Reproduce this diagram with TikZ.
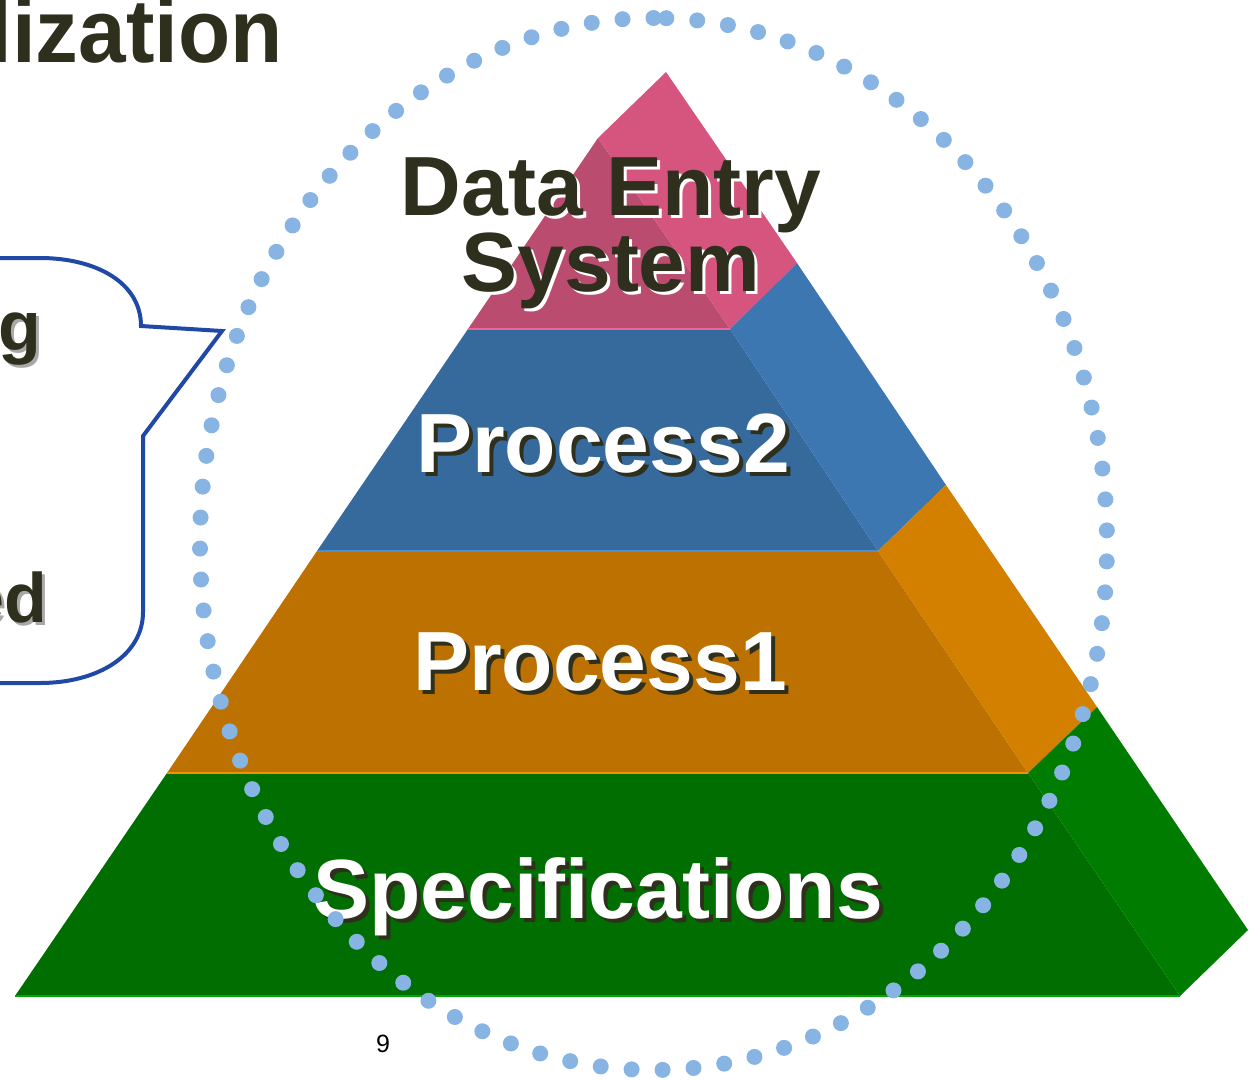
\documentclass[tikz,border=0pt]{standalone}
\usepackage{fontspec}
\setmainfont{Liberation Sans}
\definecolor{inkdark}{HTML}{2F2F1E}
\definecolor{pinkF}{HTML}{BA4C70}
\definecolor{pinkR}{HTML}{D5557F}
\definecolor{pinkL}{HTML}{E9679A}
\definecolor{blueF}{HTML}{366A9D}
\definecolor{blueR}{HTML}{3D77B1}
\definecolor{blueL}{HTML}{4B90D8}
\definecolor{oranF}{HTML}{BC7100}
\definecolor{oranR}{HTML}{D37F00}
\definecolor{oranL}{HTML}{F29200}
\definecolor{greenF}{HTML}{006E00}
\definecolor{greenR}{HTML}{007D00}
\definecolor{greenL}{HTML}{00A800}
\definecolor{dotblue}{HTML}{87B4E3}
\definecolor{callblue}{HTML}{1F49A5}
\definecolor{shadowgray}{HTML}{A8A8A8}
\begin{document}
\begin{tikzpicture}[x=1pt,y=-1pt,
  bigfont/.style={font=\fontsize{84}{84}\selectfont\bfseries},
  lbl/.style={bigfont,anchor=base,inner sep=0pt},
  whitelbl/.style={lbl,text=white},
  darkshadow/.style={lbl,text=inkdark},
  darklbl/.style={lbl,text=inkdark},
  whiteshadow/.style={lbl,text=white},
  calltext/.style={anchor=base east,inner sep=0pt,text=inkdark,font=\fontsize{70}{70}\selectfont\bfseries},
  callshadow/.style={calltext,text=shadowgray},
  edgeline/.style={line width=2.5pt},
  dotring/.style={dotblue,line width=16pt,line cap=round,dash pattern=on 0pt off 31pt},
  callout/.style={callblue,line width=4pt,line join=miter}]
\useasboundingbox (0,0) rectangle (1253,1079);
% pyramid corners
\coordinate (A) at (598,138);
\coordinate (B) at (666,72);
\coordinate (L1) at (468,329);
\coordinate (L2) at (317,551);
\coordinate (L3) at (167,773);
\coordinate (L4) at (15,996);
\coordinate (R1) at (730,329);
\coordinate (R2) at (878,551);
\coordinate (R3) at (1028,773);
\coordinate (R4) at (1180,996);
\coordinate (K1) at (797,263);
\coordinate (K2) at (946,485);
\coordinate (K3) at (1097,707);
\coordinate (K4) at (1248,930);
% layers
\fill[pinkF] (A) -- (R1) -- (L1) -- cycle;
\fill[pinkR] (A) -- (B) -- (K1) -- (R1) -- cycle;
\fill[blueF] (L1) -- (R1) -- (R2) -- (L2) -- cycle;
\fill[blueR] (R1) -- (K1) -- (K2) -- (R2) -- cycle;
\fill[oranF] (L2) -- (R2) -- (R3) -- (L3) -- cycle;
\fill[oranR] (R2) -- (K2) -- (K3) -- (R3) -- cycle;
\fill[greenF] (L3) -- (R3) -- (R4) -- (L4) -- cycle;
\fill[greenR] (R3) -- (K3) -- (K4) -- (R4) -- cycle;
\draw[edgeline,pinkL] (L1) -- (R1);
\draw[edgeline,blueL] (L2) -- (R2);
\draw[edgeline,oranL] (L3) -- (R3);
\draw[edgeline,greenL] (L4) -- (R4);
% title
\node[anchor=base east,inner sep=0pt,text=inkdark,xscale=0.95,font=\fontsize{90}{90}\selectfont\bfseries] (title) at (283,62) {lization};
% callout
\draw[callout] (-10,258) -- (40,258) .. controls (95,258) and (141,282) .. (141,326) -- (222,331) -- (143,436) -- (143,612) .. controls (143,656) and (97,683) .. (40,683) -- (-10,683);
\node[callshadow] (cgs) at (44,353) {g};
\node[calltext] (cg) at (41,350) {g};
\node[callshadow] (ceds) at (50,625) {ed};
\node[calltext] (ced) at (47,622) {ed};
% labels
\node[whiteshadow] (d1s) at (614,218) {Data Entry};
\node[darklbl] (d1) at (611,215) {Data Entry};
\node[whiteshadow] (d2s) at (614,294) {System};
\node[darklbl] (d2) at (611,291) {System};
\node[darkshadow] (p2s) at (607,476) {Process2};
\node[whitelbl] (p2) at (603,472) {Process2};
\node[darkshadow] (p1s) at (604,694) {Process1};
\node[whitelbl] (p1) at (600,690) {Process1};
\node[darkshadow] (sps) at (602,922) {Specifications};
\node[whitelbl] (sp) at (598,918) {Specifications};
% page number
\node[anchor=base,inner sep=0pt,font=\fontsize{25}{25}\selectfont] (pg) at (383,1052) {9};
% dotted ring
\draw[dotring] (653.5,18) arc[start angle=-90,end angle=-450,x radius=453.5,y radius=526];
\end{tikzpicture}
\end{document}
